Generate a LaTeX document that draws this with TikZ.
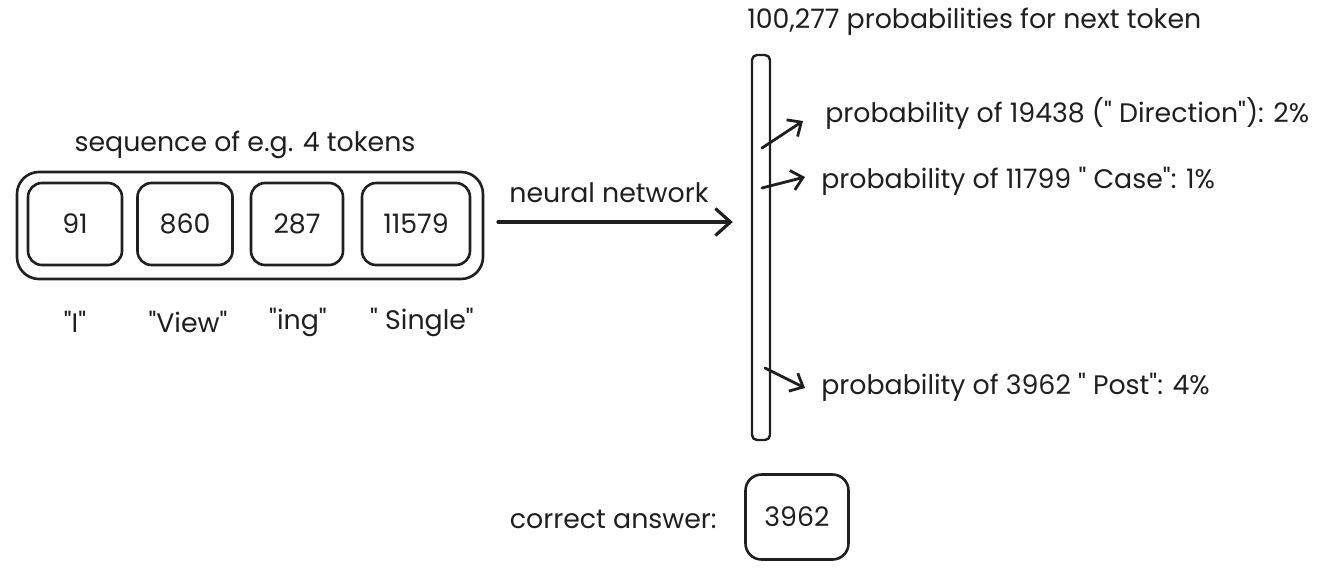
\documentclass[tikz,border=0pt]{standalone}
\usepackage{fontspec}
\newfontfamily\nfont{Poppins}
\usetikzlibrary{arrows.meta}
\begin{document}
\begin{tikzpicture}[x=1pt,y=-1pt,
  line width=2.6pt, line join=round, line cap=round,
  lbl/.style={inner sep=0pt, font=\nfont\fontsize{26.8}{30}\selectfont, text=black!88},
  tokbox/.style={draw=black!88, rounded corners=14pt, inner sep=0pt},
  arr/.style={draw=black!88, line width=2.8pt, -{Straight Barb[length=11pt,width=20pt,line width=2.8pt]}},
  bigarr/.style={draw=black!88, line width=3.2pt, -{Straight Barb[length=15pt,width=27pt,line width=3.2pt]}}
]
\useasboundingbox (0,0) rectangle (1334,582);
% sequence
\node[lbl] (seqlbl) at (245,145) {sequence of e.g. 4 tokens};
\draw[tokbox, rounded corners=22pt] (17,172) rectangle (483,279);
\node[tokbox, minimum width=94pt, minimum height=82pt] (t1) at (75,224) {};
\node[tokbox, minimum width=95pt, minimum height=82pt] (t2) at (185,224) {};
\node[tokbox, minimum width=92pt, minimum height=82pt] (t3) at (297,224) {};
\node[tokbox, minimum width=108pt, minimum height=82pt] (t4) at (416,224) {};
\node[lbl] at (t1) {91};
\node[lbl] at (t2) {860};
\node[lbl] at (t3) {287};
\node[lbl] at (t4) {11579};
\node[lbl] (l1) at (75,322) {"I"};
\node[lbl] (l2) at (188,322) {"View"};
\node[lbl] (l3) at (298,322) {"ing"};
\node[lbl] (l4) at (422,322) {" Single"};
% arrow
\coordinate (nnA) at (498,222);
\node[inner sep=0pt, minimum width=18pt, minimum height=385pt, draw=black!88, rounded corners=5pt, line width=2.4pt] (bar) at (761,247.5) {};
\draw[bigarr] (nnA) -- ([xshift=-18pt]bar.west |- nnA);
\node[lbl] (nn) at (609,193) {neural network};
% title
\node[lbl, anchor=west] (title) at (746,22) {100,277 probabilities for next token};
% probability arrows
\coordinate (a1s) at (762,148);
\coordinate (a1e) at (803,121);
\coordinate (a2s) at (762,188);
\coordinate (a2e) at (805,177);
\coordinate (a3s) at (765,368);
\coordinate (a3e) at (805,388);
\draw[arr] (a1s) -- (a1e);
\draw[arr] (a2s) -- (a2e);
\draw[arr] (a3s) -- (a3e);
\node[lbl, anchor=west] (p1) at (824,113) {probability of 19438 (" Direction"): 2\%};
\node[lbl, anchor=west] (p2) at (820,181) {probability of 11799 " Case": 1\%};
\node[lbl, anchor=west] (p3) at (820,387) {probability of 3962 " Post": 4\%};
% correct answer
\node[lbl, anchor=east] (ca) at (718,519) {correct answer:};
\node[tokbox, minimum width=103pt, minimum height=85pt, rounded corners=16pt] (ans) at (797,517) {};
\node[lbl] at (ans) {3962};
\end{tikzpicture}
\end{document}
